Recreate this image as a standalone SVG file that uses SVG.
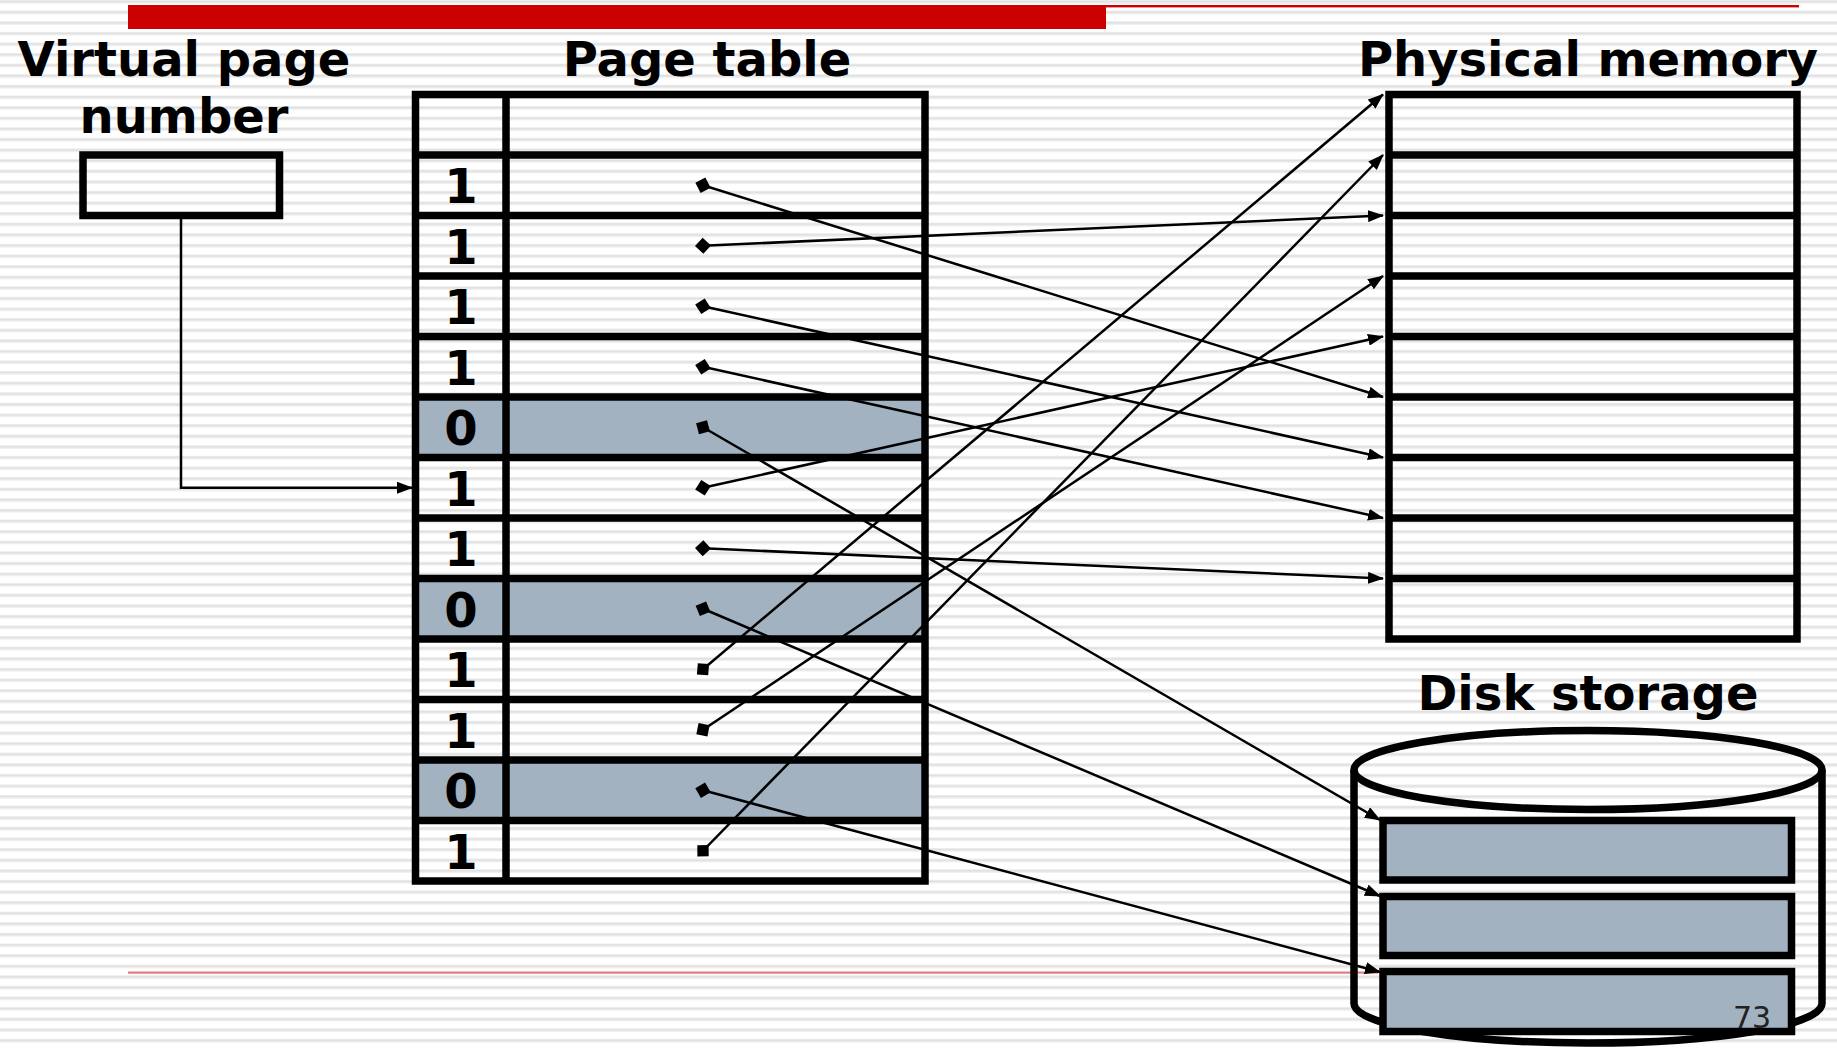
<svg xmlns="http://www.w3.org/2000/svg" width="1837" height="1048" viewBox="0 0 1837 1048">
  <defs>
    <!-- ruled-paper background -->
    <pattern id="lines" x="0" y="0" width="40" height="10.6" patternUnits="userSpaceOnUse">
      <rect x="0" y="0" width="40" height="10.6" fill="#ffffff"/>
      <rect x="0" y="0" width="40" height="1" fill="#ececec"/>
      <rect x="0" y="1" width="40" height="1.6" fill="#dedede"/>
      <rect x="0" y="2.6" width="40" height="1" fill="#ececec"/>
    </pattern>
    <marker id="arrow" markerUnits="userSpaceOnUse" viewBox="0 0 16 12" markerWidth="16" markerHeight="12" refX="15" refY="6" orient="auto">
      <path d="M0,0 L16,6 L0,12 z" fill="#000"/>
    </marker>
    <marker id="dot" markerUnits="userSpaceOnUse" viewBox="-9 -9 18 18" markerWidth="18" markerHeight="18" refX="0" refY="0" orient="auto">
      <path d="M-8,0 L0,-8 L8,0 L0,8 z" fill="#000"/>
    </marker>
  </defs>
  <style>
    .title { font-family: "DejaVu Sans", "Verdana", sans-serif; font-weight: bold; font-size: 48px; fill: #000; text-anchor: middle; }
    .bit { font-family: "DejaVu Sans", "Verdana", sans-serif; font-weight: bold; font-size: 48px; fill: #000; text-anchor: middle; }
    .grid { fill: none; stroke: #000; stroke-width: 7.5; }
    .shade { fill: #a3b2c1; }
    .link { fill: none; stroke: #000; stroke-width: 2.5; marker-start: url(#dot); marker-end: url(#arrow); }
    .page { font-family: "DejaVu Sans", "Verdana", sans-serif; font-size: 30px; fill: #222; }
  </style>

  <rect x="0" y="0" width="1837" height="1048" fill="url(#lines)"/>

  <!-- slide decorations -->
  <rect x="128" y="5" width="978" height="24" fill="#cc0000"/>
  <rect x="1106" y="5" width="693" height="2.4" fill="#cc0000"/>
  <rect x="128" y="971.5" width="1250" height="2.2" fill="#e57b7b"/>

  <!-- headings -->
  <text class="title" x="184" y="76">Virtual page</text>
  <text class="title" x="184" y="133">number</text>
  <text class="title" x="707" y="76">Page table</text>
  <text class="title" x="1588" y="76">Physical memory</text>
  <text class="title" x="1588" y="710">Disk storage</text>

  <!-- virtual page number register -->
  <g id="vpn">
    <rect class="grid" x="83" y="155" width="196.5" height="60.5"/>
  </g>

  <!-- page table: header row + 12 entries -->
  <g id="page-table">
    <rect class="shade" x="415.5" y="397" width="509.5" height="60.5"/>
    <rect class="shade" x="415.5" y="578.5" width="509.5" height="60.5"/>
    <rect class="shade" x="415.5" y="760" width="509.5" height="60.5"/>
    <rect class="grid" x="415.5" y="94.5" width="509.5" height="786.5"/>
    <path class="grid" d="M506,94.5 V881
      M415.5,155 H925 M415.5,215.5 H925 M415.5,276 H925 M415.5,336.5 H925
      M415.5,397 H925 M415.5,457.5 H925 M415.5,518 H925 M415.5,578.5 H925
      M415.5,639 H925 M415.5,699.5 H925 M415.5,760 H925 M415.5,820.5 H925"/>
    <text class="bit" x="461" y="203">1</text>
    <text class="bit" x="461" y="264">1</text>
    <text class="bit" x="461" y="324">1</text>
    <text class="bit" x="461" y="385">1</text>
    <text class="bit" x="461" y="445">0</text>
    <text class="bit" x="461" y="506">1</text>
    <text class="bit" x="461" y="566">1</text>
    <text class="bit" x="461" y="627">0</text>
    <text class="bit" x="461" y="687">1</text>
    <text class="bit" x="461" y="748">1</text>
    <text class="bit" x="461" y="808">0</text>
    <text class="bit" x="461" y="869">1</text>
  </g>

  <!-- physical memory: 9 frames -->
  <g id="physical-memory">
    <rect class="grid" x="1389" y="94.5" width="408" height="544.5"/>
    <path class="grid" d="M1389,155 H1797 M1389,215.5 H1797 M1389,276 H1797 M1389,336.5 H1797
      M1389,397 H1797 M1389,457.5 H1797 M1389,518 H1797 M1389,578.5 H1797"/>
  </g>

  <!-- disk storage cylinder with three pages -->
  <g id="disk-storage">
    <path class="grid" d="M1354,770 V1003.5 A234,39.5 0 0 0 1822,1003.5 V770"/>
    <ellipse class="grid" cx="1588" cy="770" rx="234" ry="39.5"/>
    <rect class="shade" x="1383" y="820.5" width="408.5" height="59.5" stroke="#000" stroke-width="7.5"/>
    <rect class="shade" x="1383" y="896.5" width="408.5" height="59" stroke="#000" stroke-width="7.5"/>
    <rect class="shade" x="1383" y="971.5" width="408.5" height="60" stroke="#000" stroke-width="7.5"/>
    <text class="page" x="1733" y="1028">73</text>
  </g>

  <!-- connectors -->
  <g id="connectors">
    <path d="M181,219 V487.75 H412" fill="none" stroke="#000" stroke-width="2.5" marker-end="url(#arrow)"/>
    <path class="link" d="M703,185.25 L1383,397"/>
    <path class="link" d="M703,245.75 L1383,215.5"/>
    <path class="link" d="M703,306.25 L1383,457.5"/>
    <path class="link" d="M703,366.75 L1383,518"/>
    <path class="link" d="M703,427.25 L1380,820"/>
    <path class="link" d="M703,487.75 L1383,336.5"/>
    <path class="link" d="M703,548.25 L1383,578.5"/>
    <path class="link" d="M703,608.75 L1380,896"/>
    <path class="link" d="M703,669.25 L1383,94.5"/>
    <path class="link" d="M703,729.75 L1383,276"/>
    <path class="link" d="M703,790.25 L1380,972"/>
    <path class="link" d="M703,850.75 L1383,155"/>
  </g>
</svg>
